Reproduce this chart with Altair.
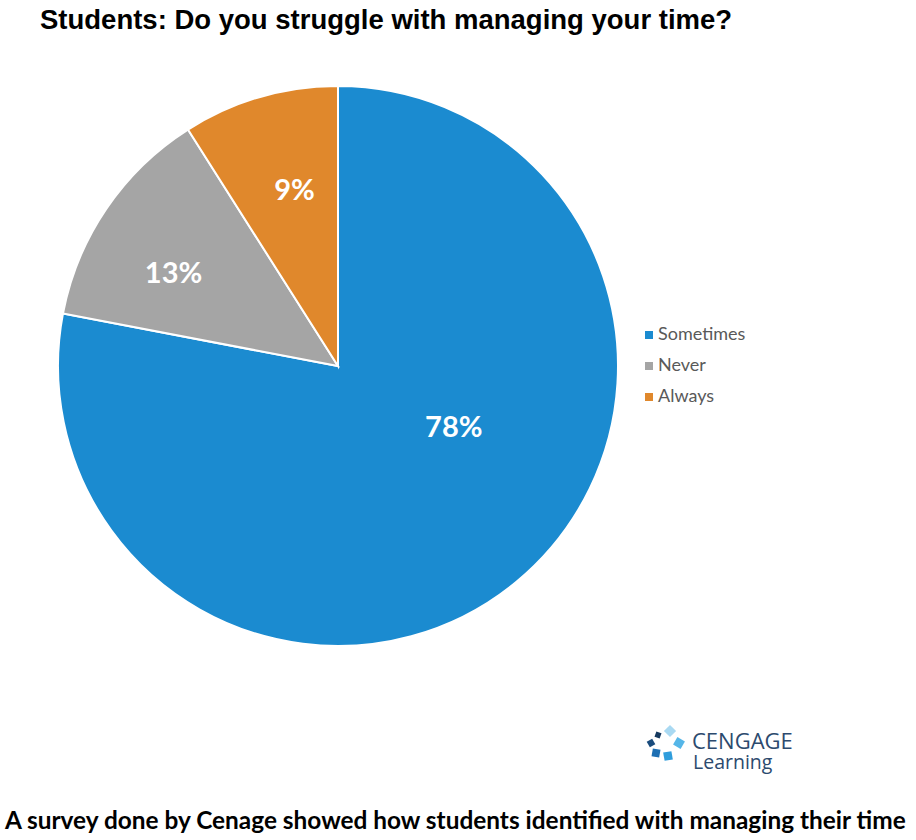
import altair as alt
import math
import pandas as pd

categories = ["Sometimes", "Never", "Always"]
values = [78, 13, 9]
labels = ["78%", "13%", "9%"]
colors = ["#1b8bd0", "#a5a5a5", "#e0882c"]

title_text = "Students: Do you struggle with managing your time?"
caption_text = "A survey done by Cenage showed how students identified with managing their time"

df = pd.DataFrame({
    "category": categories,
    "value": values,
    "label": labels,
    "idx": list(range(len(categories))),
})

CX, CY, R = 338, 366, 280

base = alt.Chart(df)

pie = base.mark_arc(radius=R, stroke="white", strokeWidth=2).encode(
    x=alt.value(CX),
    y=alt.value(CY),
    theta=alt.Theta("value:Q", stack=True),
    order=alt.Order("idx:Q"),
    color=alt.Color(
        "category:N",
        scale=alt.Scale(domain=categories, range=colors),
        legend=alt.Legend(
            orient="none",
            legendX=640,
            legendY=326,
            title=None,
            symbolType="square",
            symbolSize=64,
            symbolStrokeWidth=0,
            labelFont="Lato",
            labelFontSize=18,
            labelColor="#595959",
            rowPadding=13,
            labelOffset=0,
        ),
    ),
)

total = sum(values)
label_offsets = {"Sometimes": (133, 31, -40), "Never": (188, -9, 14), "Always": (188, 9, 6)}
text_layers = []
for cat in categories:
    r, dx, dy = label_offsets[cat]
    t = base.transform_window(
        cum="sum(value)", sort=[alt.SortField("idx")]
    ).transform_calculate(
        mid="datum.cum - datum.value / 2"
    ).transform_filter(
        alt.datum.category == cat
    ).mark_text(
        radius=r, dx=dx, dy=dy, font="Lato", fontWeight="bold", fontSize=29,
        color="white", align="center", baseline="middle",
    ).encode(
        x=alt.value(CX),
        y=alt.value(CY),
        theta=alt.Theta("mid:Q", scale=alt.Scale(domain=[0, total], range=[0, 2 * math.pi])),
        text="label:N",
    )
    text_layers.append(t)

one = alt.Data(values=[{}])

title = alt.Chart(one).mark_text(
    font="Liberation Sans", fontWeight="bold", fontSize=27.5, color="black",
    align="left", baseline="alphabetic",
).encode(x=alt.value(40), y=alt.value(29), text=alt.value(title_text))

caption = alt.Chart(one).mark_text(
    font="Lato", fontWeight="bold", fontSize=24.4, color="black",
    align="left", baseline="alphabetic",
).encode(x=alt.value(5), y=alt.value(829), text=alt.value(caption_text))

cengage = alt.Chart(one).mark_text(
    font="Open Sans", fontSize=22, color="#2c4a6e", align="left",
    baseline="alphabetic",
).encode(x=alt.value(692), y=alt.value(749), text=alt.value("CENGAGE"))

learning = alt.Chart(one).mark_text(
    font="Open Sans", fontSize=19.5, color="#2c4a6e", align="left",
    baseline="alphabetic",
).encode(x=alt.value(693), y=alt.value(769), text=alt.value("Learning"))

icon_pieces = [
    (670, 731, "#a9d9f2", 45, 75),
    (679, 743, "#55b6e8", 30, 75),
    (668, 756, "#2f9ddc", 80, 70),
    (656, 753, "#1d6fb3", 10, 60),
    (651, 743, "#1a4c7d", 60, 40),
    (658, 735, "#16395f", 20, 30),
]
icon_layers = [
    alt.Chart(one).mark_point(shape="square", filled=True, opacity=1, angle=a, size=s, color=c).encode(
        x=alt.value(px), y=alt.value(py)
    )
    for px, py, c, a, s in icon_pieces
]

chart = alt.layer(pie, *text_layers, title, caption, cengage, learning, *icon_layers).properties(
    width=916,
    height=840,
    autosize=alt.AutoSizeParams(type="none"),
    padding=0,
).configure_view(stroke=None)

chart.save("out.html", embed_options={"renderer": "svg", "actions": False})
